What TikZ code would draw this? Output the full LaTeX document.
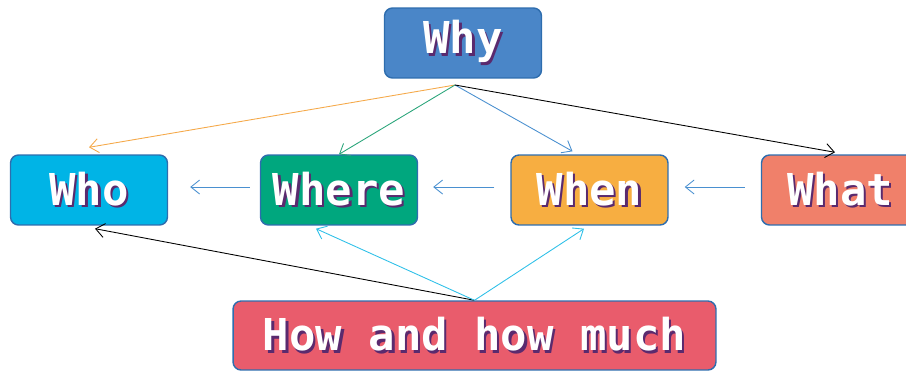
\documentclass[tikz,border=0pt]{standalone}
\usepackage{fontspec}
\newfontfamily\pixfont{DejaVu Sans Mono}
\usetikzlibrary{arrows.meta}

\definecolor{whycol}{HTML}{4A86C8}
\definecolor{whocol}{HTML}{00B4E6}
\definecolor{wherecol}{HTML}{00A77E}
\definecolor{whencol}{HTML}{F7AE41}
\definecolor{whatcol}{HTML}{F0806A}
\definecolor{howcol}{HTML}{E95C6C}
\definecolor{edgecol}{HTML}{2E6DAE}
\definecolor{shadecol}{HTML}{5A2A6E}
\definecolor{orangeln}{HTML}{F5A94A}
\definecolor{greenln}{HTML}{2AA57A}
\definecolor{blueln}{HTML}{4A90D0}
\definecolor{cyanln}{HTML}{2EC0E8}

\newcommand{\shtext}[1]{\makebox[0pt][l]{\hspace{1.3pt}\raisebox{-1.3pt}{\textcolor{shadecol}{#1}}}\textcolor{white}{#1}}

\tikzset{
  qbox/.style={draw=edgecol, line width=0.8pt, rounded corners=0.16cm,
    minimum width=3.14cm, minimum height=1.4cm, inner sep=0pt,
    font=\pixfont\bfseries\fontsize{25}{30}\selectfont},
  link/.style={line width=0.5pt, -{Straight Barb[length=5pt,width=8pt]}}
}

\begin{document}
\begin{tikzpicture}[x=0.02cm,y=-0.02cm]
\useasboundingbox (0,0) rectangle (906,372);

% the six questions
\node[qbox, fill=whycol] (why) at (463,43) {\shtext{Why}};
\node[qbox, fill=whocol] (who) at (89,190) {\shtext{Who}};
\node[qbox, fill=wherecol] (where) at (339,190) {\shtext{Where}};
\node[qbox, fill=whencol] (when) at (589.5,190) {\shtext{When}};
\node[qbox, fill=whatcol] (what) at (840,190) {\shtext{What}};
\node[qbox, fill=howcol, minimum width=9.66cm, minimum height=1.38cm] (how) at (474.5,335.5) {\shtext{How and how much}};

\coordinate (whyout) at (455,85);

% from why
\draw[link, orangeln] (whyout) -- ([yshift=0.14cm]who.north);
\draw[link, greenln] (whyout) -- (where.north);
\draw[link, blueln] (whyout) -- ([xshift=-0.34cm,yshift=0.06cm]when.north);
\draw[link, black] (whyout) -- ([xshift=-0.1cm,yshift=0.04cm]what.north);

% along the row
\draw[link, blueln] ([xshift=-0.2cm,yshift=0.06cm]where.west) -- ([xshift=0.44cm,yshift=0.06cm]who.east);
\draw[link, blueln] ([xshift=-0.32cm,yshift=0.06cm]when.west) -- ([xshift=0.3cm,yshift=0.06cm]where.east);
\draw[link, blueln] ([xshift=-0.32cm,yshift=0.06cm]what.west) -- ([xshift=0.32cm,yshift=0.06cm]when.east);

% from how
\draw[link, black] (how.north) -- ([xshift=0.12cm,yshift=-0.06cm]who.south);
\draw[link, cyanln] (how.north) -- ([xshift=-0.46cm,yshift=-0.06cm]where.south);
\draw[link, cyanln] (how.north) -- ([xshift=-0.11cm,yshift=-0.06cm]when.south);
\end{tikzpicture}
\end{document}
